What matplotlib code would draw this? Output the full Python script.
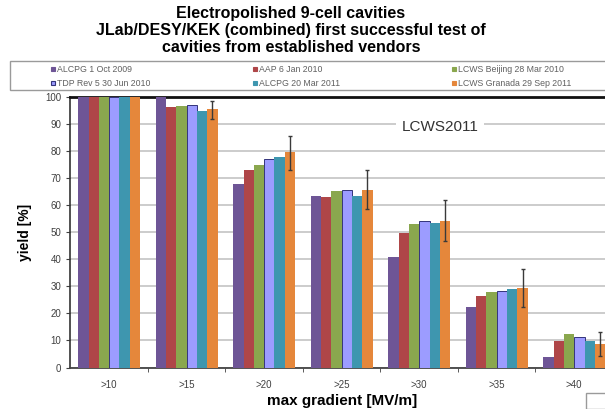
import numpy as np
import matplotlib.pyplot as plt
from matplotlib.lines import Line2D
from matplotlib.patches import Rectangle

plt.rcParams['font.family'] = ['Liberation Sans', 'DejaVu Sans']

# gradient thresholds
categories = ['>10', '>15', '>20', '>25', '>30', '>35', '>40']

series_names = ['ALCPG 1 Oct 2009', 'AAP 6 Jan 2010', 'LCWS Beijing 28 Mar 2010',
                'TDP Rev 5 30 Jun 2010', 'ALCPG 20 Mar 2011', 'LCWS Granada 29 Sep 2011']

alcpg_2009 = [100, 100, 67.7, 63.4, 40.7, 22.5, 4.0]
aap_2010 = [100, 96.4, 73.0, 62.9, 49.6, 26.4, 9.8]
lcws_beijing = [100, 96.7, 74.9, 65.4, 52.9, 27.8, 12.3]
tdp_rev5 = [100, 97.0, 77.0, 65.6, 54.2, 28.4, 11.2]
alcpg_2011 = [100, 94.9, 77.7, 63.4, 53.3, 28.9, 9.8]
lcws_granada = [100, 95.5, 79.6, 65.6, 54.3, 29.3, 8.6]

# error bar ends for the latest series (no bar on the first group)
granada_low = [100, 91.8, 73.0, 58.7, 46.8, 22.5, 4.4]
granada_high = [100, 98.6, 85.7, 73.0, 61.9, 36.3, 13.2]

colors = ['#6E5596', '#AF4648', '#8AA74E', '#9C9CFF', '#3E96AF', '#E5873B']
edges = ['none', 'none', 'none', '#34347A', 'none', 'none']

all_series = [alcpg_2009, aap_2010, lcws_beijing, tdp_rev5, alcpg_2011, lcws_granada]

fig = plt.figure(figsize=(6.05, 4.09), dpi=100)
W, H = 605.0, 409.0
# axes runs slightly past the right edge, like the cropped original
ax = fig.add_axes([70.4 / W, 1 - 367.5 / H, 542.6 / W, 270.5 / H])

x = np.arange(len(categories))
bw = 0.133
for i, (vals, c, ec) in enumerate(zip(all_series, colors, edges)):
    pos = x + (i - 2.5) * bw
    ax.bar(pos, vals, bw, color=c, edgecolor=ec, linewidth=0.7 if ec != 'none' else 0,
           zorder=3)

vals = np.array(lcws_granada)
lo = vals - np.array(granada_low)
hi = np.array(granada_high) - vals
pos = x[1:] + 2.5 * bw
ax.errorbar(pos, vals[1:], yerr=[lo[1:], hi[1:]], fmt='none', ecolor='#3a3a3a',
            elinewidth=1, capsize=1.5, capthick=1, zorder=4)

ax.set_xlim(-0.5, len(categories) - 0.5)
ax.set_ylim(0, 100)
ax.set_yticks(np.arange(0, 101, 10))
ax.set_xticks(x)
ax.set_xticklabels(categories)
ax.set_xticks(x[:-1] + 0.5, minor=True)
ax.tick_params(axis='x', which='major', length=0, pad=9, labelsize=7, labelcolor='#404040')
ax.tick_params(axis='x', which='minor', length=3, direction='out', color='#404040')
ax.tick_params(axis='y', length=3, labelsize=7, labelcolor='#404040', color='#404040')

ax.grid(axis='y', color='#c8c8c8', linewidth=1.3, zorder=0)
ax.set_axisbelow(True)
ax.spines['top'].set_linewidth(2)
ax.spines['top'].set_color('#111111')
ax.spines['left'].set_linewidth(1.2)
ax.spines['left'].set_color('#333333')
ax.spines['bottom'].set_linewidth(1.3)
ax.spines['bottom'].set_color('#444444')
ax.spines['right'].set_visible(False)

ax.text(0.681, 0.89, 'LCWS2011', transform=ax.transAxes, ha='center', va='center',
        fontsize=11, color='#333333', zorder=5,
        bbox=dict(facecolor='white', edgecolor='none', pad=4))

# titles
fig.text(291 / W, 1 - 6 / H,
         'Electropolished 9-cell cavities\nJLab/DESY/KEK (combined) first successful test of\n'
         'cavities from established vendors',
         ha='center', va='top', fontsize=11.5, fontweight='bold', linespacing=1.18)
fig.text(25 / W, 1 - 232 / H, 'yield [%]', rotation=90, ha='center', va='center',
         fontsize=10, fontweight='bold')
fig.text(342 / W, 1 - 401 / H, 'max gradient [MV/m]', ha='center', va='center',
         fontsize=11, fontweight='bold')

# legend frame
fig.add_artist(Rectangle((10 / W, 1 - 90 / H), 640 / W, 29 / H, transform=fig.transFigure,
                         facecolor='white', edgecolor='#9a9a9a', linewidth=1))
handles = [Line2D([], [], marker='s', linestyle='none', markersize=3.5,
                  markerfacecolor=c, markeredgecolor=(ec if ec != 'none' else c),
                  markeredgewidth=0.8)
           for c, ec in zip(colors, edges)]
col_x = [44, 246, 445]
for k in range(3):
    idx = [k, k + 3]
    leg = fig.legend([handles[j] for j in idx], [series_names[j] for j in idx],
                     loc='upper left', bbox_to_anchor=(col_x[k] / W, 1 - 59 / H),
                     frameon=False, fontsize=6.3, handlelength=0.6, handletextpad=0.2,
                     labelspacing=0.6, borderpad=0.2, labelcolor='#606060')

fig.add_artist(Rectangle((586 / W, 0), 40 / W, 16 / H, transform=fig.transFigure,
                         facecolor='white', edgecolor='#9a9a9a', linewidth=1))

fig.savefig('out.png', dpi=100)
